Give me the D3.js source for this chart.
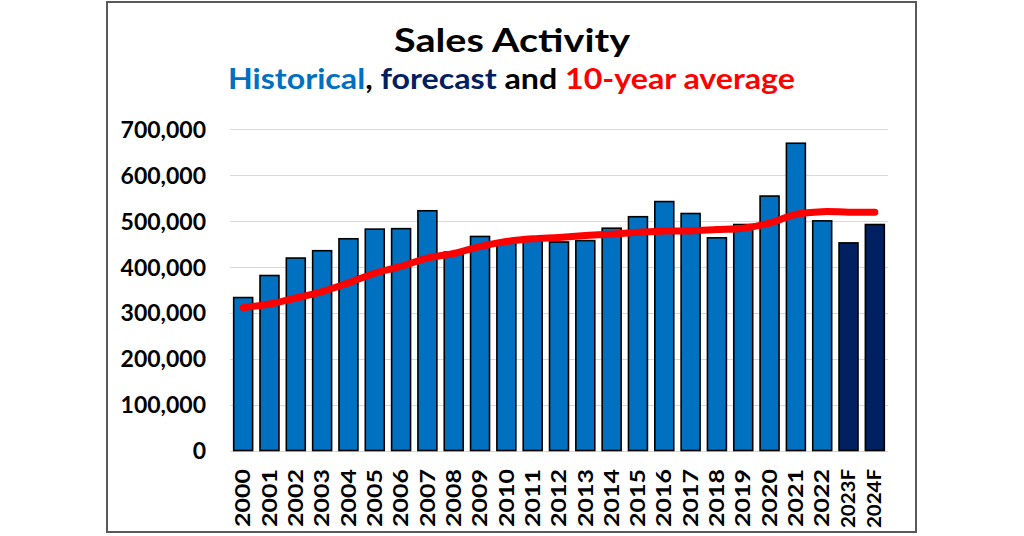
<!DOCTYPE html>
<html><head><meta charset="utf-8">
<script src="https://cdn.jsdelivr.net/npm/d3@7"></script>
<style>html,body{margin:0;padding:0;background:#fff;}svg{display:block;}</style>
</head><body>
<svg id="c" width="1024" height="536"></svg>
<script>
const categories = ["2000","2001","2002","2003","2004","2005","2006","2007","2008","2009","2010","2011","2012","2013","2014","2015","2016","2017","2018","2019","2020","2021","2022","2023F","2024F"];
const sales = [333000,381000,419000,435000,461000,482000,483000,522000,432000,466000,452000,457000,454000,457000,484000,509000,542000,516000,463000,492000,554000,669000,500000,452000,492000];
const forecastFlags = [0,0,0,0,0,0,0,0,0,0,0,0,0,0,0,0,0,0,0,0,0,0,0,1,1];
const tenYearAvg = [311000,319000,332000,346000,365000,386000,401000,419000,429000,444000,455000,461000,464000,468000,471000,475000,478000,478000,481000,484000,495000,514000,520000,519000,519000];
const yTicks = [0,100000,200000,300000,400000,500000,600000,700000];

const svg = d3.select("#c");
const F = "Lato, 'Open Sans', sans-serif";

svg.append("rect").attr("x",0).attr("y",0).attr("width",1024).attr("height",536).attr("fill","#fff");
svg.append("rect").attr("x",107).attr("y",2).attr("width",809).attr("height",530)
  .attr("fill","none").attr("stroke","#595959").attr("stroke-width",2);

const x = d3.scaleBand().domain(categories).range([230,888]).paddingInner(0.28).paddingOuter(0.14);
const y = d3.scaleLinear().domain([0,700000]).range([450.5,129]);

// gridlines
svg.append("g").selectAll("line").data(yTicks).join("line")
  .attr("x1",230).attr("x2",888)
  .attr("y1",d=>Math.round(y(d))+0.5).attr("y2",d=>Math.round(y(d))+0.5)
  .attr("stroke","#d9d9d9").attr("stroke-width",1);

// y axis labels
const yAxis = d3.axisLeft(y).tickValues(yTicks).tickSize(0).tickPadding(0)
  .tickFormat(d3.format(","));
const gy = svg.append("g").attr("transform","translate(206,0)").call(yAxis);
gy.select(".domain").remove();
gy.selectAll("text").attr("font-family",F).attr("font-weight","bold")
  .attr("font-size",23).attr("fill","#000").attr("dy","0.36em");

// bars
svg.append("g").selectAll("rect").data(categories).join("rect")
  .attr("x",d=>x(d)).attr("width",x.bandwidth())
  .attr("y",(d,i)=>y(sales[i])).attr("height",(d,i)=>y(0)-y(sales[i]))
  .attr("fill",(d,i)=>forecastFlags[i]?"#002060":"#0070c0")
  .attr("stroke","#000").attr("stroke-width",1.6);

// x labels
const xAxis = d3.axisBottom(x).tickSize(0).tickPadding(0);
const gx = svg.append("g").attr("transform","translate(0,469)").call(xAxis);
gx.select(".domain").remove();
gx.selectAll("text")
  .attr("font-family",F).attr("font-weight","bold").attr("fill","#000")
  .attr("font-size",d=>d.endsWith("F")?18:20)
  .attr("text-anchor","end")
  .attr("transform","rotate(-90)")
  .attr("x",0).attr("y",0).attr("dy","0.36em")
  .attr("textLength",d=>d.endsWith("F")?59:58)
  .attr("lengthAdjust","spacingAndGlyphs");

// 10-year average line
const line = d3.line().x((d,i)=>x(categories[i])+x.bandwidth()/2).y(d=>y(d))
  .curve(d3.curveCatmullRom.alpha(0.5));
svg.append("path").datum(tenYearAvg).attr("d",line)
  .attr("fill","none").attr("stroke","#ff0000").attr("stroke-width",7)
  .attr("stroke-linecap","round").attr("stroke-linejoin","round");

// title
svg.append("text").attr("x",512).attr("y",51.7).attr("text-anchor","middle")
  .attr("font-family",F).attr("font-weight","bold").attr("font-size",33).attr("fill","#000")
  .attr("textLength",236).attr("lengthAdjust","spacingAndGlyphs")
  .text("Sales Activity");

const sub = svg.append("text").attr("x",511.5).attr("y",89).attr("text-anchor","middle")
  .attr("font-family",F).attr("font-weight","bold").attr("font-size",29)
  .attr("textLength",567).attr("lengthAdjust","spacingAndGlyphs");
sub.append("tspan").attr("fill","#0070c0").text("Historical");
sub.append("tspan").attr("fill","#000").text(", ");
sub.append("tspan").attr("fill","#002060").text("forecast");
sub.append("tspan").attr("fill","#000").text(" and ");
sub.append("tspan").attr("fill","#ff0000").text("10-year average");
</script>
</body></html>
